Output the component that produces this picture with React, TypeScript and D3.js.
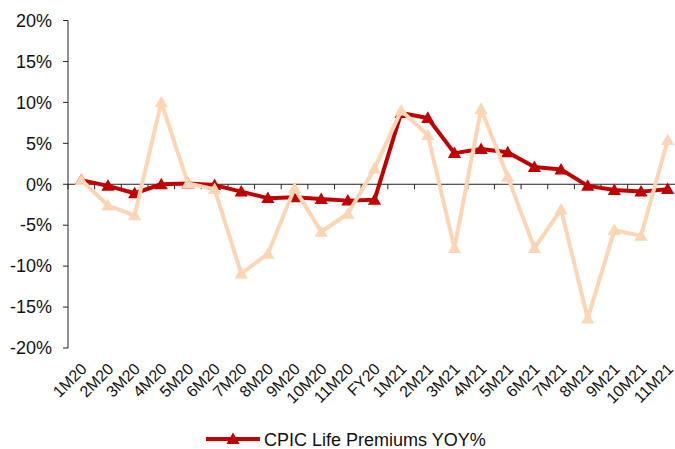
import React from "react";
import * as d3 from "d3";

const categories = ["1M20","2M20","3M20","4M20","5M20","6M20","7M20","8M20","9M20","10M20","11M20","FY20","1M21","2M21","3M21","4M21","5M21","6M21","7M21","8M21","9M21","10M21","11M21"];
const premiumsYoy = [0.5,-0.2,-1.1,0.0,0.1,-0.1,-0.9,-1.7,-1.6,-1.8,-2.0,-1.9,8.7,8.1,3.8,4.3,3.9,2.1,1.8,-0.2,-0.7,-0.9,-0.6];
const monthlyYoy = [0.5,-2.6,-3.8,10.0,0.1,-0.6,-10.9,-8.5,-0.5,-5.8,-3.6,1.9,9.0,6.0,-7.8,9.2,0.9,-7.8,-3.1,-16.4,-5.6,-6.3,5.4];
const yTicks = [20,15,10,5,0,-5,-10,-15,-20];
const seriesName = "CPIC Life Premiums YOY%";

const RED = "#C00000";
const PEACH = "#FCD5B5";
const FONT = "Arial, 'Liberation Sans', sans-serif";

export default function App() {
  const W = 675, H = 449;
  const left = 68, right = 681, top = 20.5, bottom = 348;
  const x = d3.scaleBand<string>().domain(categories).range([left, right]).padding(0);
  const y = d3.scaleLinear().domain([-20, 20]).range([bottom, top]);
  const cx = (c: string) => (x(c) as number) + x.bandwidth() / 2;
  const line = d3.line<number>().x((_, i) => cx(categories[i])).y(d => y(d));
  const tri = (px: number, py: number, s: number) =>
    `M${px},${py - s * 0.6}L${px + s * 0.6},${py + s * 0.45}L${px - s * 0.6},${py + s * 0.45}Z`;
  const boundaries = d3.range(categories.length + 1).map(i => left + i * x.bandwidth());

  return (
    <svg width={W} height={H} style={{ position: "absolute", left: 0, top: 0 }}>
      <rect width={W} height={H} fill="#fff" />
      <line x1={left} x2={left} y1={top} y2={bottom} stroke="#222" strokeWidth={1} />
      {yTicks.map(t => (
        <g key={t}>
          <line x1={left - 5} x2={left} y1={y(t)} y2={y(t)} stroke="#222" />
          <text x={left - 16} y={y(t)} dy="0.35em" textAnchor="end" fontFamily={FONT} fontSize={18} fill="#111">{t}%</text>
        </g>
      ))}
      <line x1={left} x2={right} y1={y(0)} y2={y(0)} stroke="#222" strokeWidth={1} />
      {boundaries.map((b, i) => (
        <line key={i} x1={b} x2={b} y1={y(0)} y2={y(0) + 5} stroke="#222" />
      ))}
      {categories.map(c => (
        <text key={c} transform={`translate(${cx(c) + 6.5},${y(-20) + 22}) rotate(-45)`} textAnchor="end" fontFamily={FONT} fontSize={16} fill="#111">{c}</text>
      ))}
      <path d={line(premiumsYoy) || ""} fill="none" stroke={RED} strokeWidth={4} strokeLinejoin="round" />
      {premiumsYoy.map((v, i) => (
        <path key={i} d={tri(cx(categories[i]), y(v), 11)} fill={RED} />
      ))}
      <path d={line(monthlyYoy) || ""} fill="none" stroke={PEACH} strokeWidth={4} strokeLinejoin="round" />
      {monthlyYoy.map((v, i) => (
        <path key={i} d={tri(cx(categories[i]), y(v), 11)} fill={PEACH} />
      ))}
      <line x1={206} x2={260} y1={439} y2={439} stroke={RED} strokeWidth={4} />
      <path d={tri(233, 439, 11)} fill={RED} />
      <text x={264} y={446} fontFamily={FONT} fontSize={18} fill="#111">{seriesName}</text>
    </svg>
  );
}
